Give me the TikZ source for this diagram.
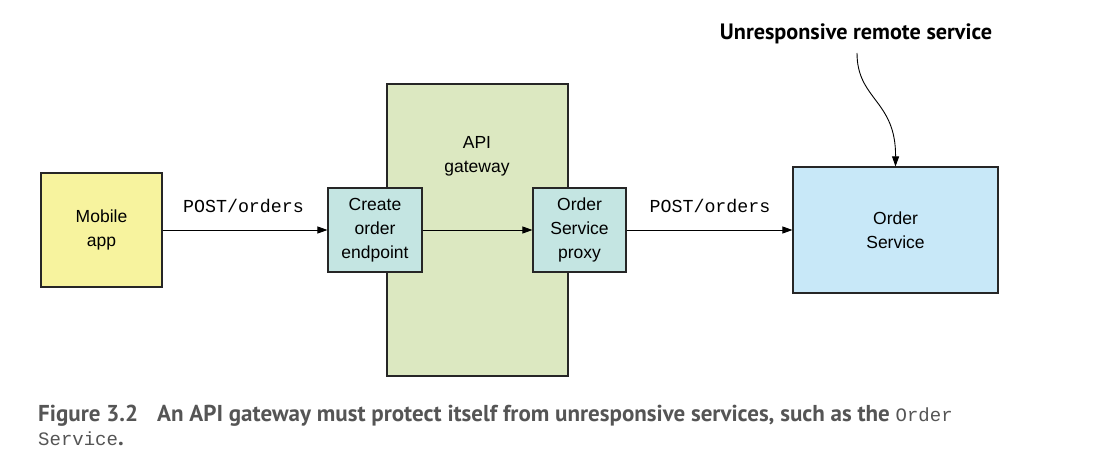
\documentclass[tikz,border=0pt]{standalone}
\usepackage{fontspec}
\setmainfont{Liberation Sans}
\setmonofont{Liberation Mono}
\newfontfamily\ptsans{PT Sans}
\usetikzlibrary{arrows.meta}
\definecolor{mobilefill}{HTML}{F7F39E}
\definecolor{tealfill}{HTML}{C4E5E2}
\definecolor{gwfill}{HTML}{DCE8C1}
\definecolor{svcfill}{HTML}{C8E8F8}
\definecolor{capgray}{HTML}{555555}
\begin{document}
\begin{tikzpicture}[x=1pt,y=-1pt,
  box/.style={draw=black!85, line width=1.1pt, align=center, inner sep=0pt,
    font=\fontsize{17.5}{24}\selectfont},
  conn/.style={line width=0.9pt, -{Triangle[length=10pt,width=7pt]}},
  lbl/.style={font=\fontsize{18.3}{20}\selectfont\ttfamily, inner sep=0pt},
  captxt/.style={anchor=base west, inner sep=0pt, text=capgray, font=\fontsize{23}{24}\selectfont\ptsans\bfseries}]
\useasboundingbox (0,0) rectangle (1094,462);
\fill[white] (0,0) rectangle (1094,462);
\node[box, fill=mobilefill, minimum width=121pt, minimum height=114pt] (mobile) at (101.5,230) {Mobile\\app};
\node[box, fill=gwfill, minimum width=181pt, minimum height=292pt] (gw) at (477.5,230) {};
\node[align=center, font=\fontsize{17.5}{24}\selectfont] (gwlabel) at (477,156) {API\\gateway};
\node[box, fill=tealfill, minimum width=94pt, minimum height=84pt] (create) at (375,230) {Create\\order\\endpoint};
\node[box, fill=tealfill, minimum width=93pt, minimum height=84pt] (proxy) at (579.5,230) {Order\\Service\\proxy};
\node[box, fill=svcfill, minimum width=205pt, minimum height=126pt] (order) at (895.5,230) {Order\\Service};
\draw[conn] (mobile) -- (create);
\draw[conn] (create) -- (proxy);
\draw[conn] (proxy) -- (order);
\node[lbl] (l1) at (243.5,206) {POST/orders};
\node[lbl] (l2) at (710,206) {POST/orders};
\node[font=\fontsize{22.2}{24}\selectfont\ptsans\bfseries, inner sep=0pt] (annot) at (856,34) {Unresponsive remote service};
\coordinate (cs) at (857,53);
\draw[line width=0.9pt, -{Triangle[length=10pt,width=7pt]}] (cs) .. controls (857,100) and (896,100) .. (order.north);
\node[captxt] (fig) at (38,421) {Figure 3.2};
\node[captxt] (cap1) at (157,421) {An API gateway must protect itself from unresponsive services, such as the {\mdseries\fontsize{19}{24}\selectfont\ttfamily Order}};
\node[captxt, font=\fontsize{19}{24}\selectfont\ttfamily] (cap2) at (38,445) {Service{\fontsize{23}{24}\selectfont\ptsans\bfseries .}};
\end{tikzpicture}
\end{document}
